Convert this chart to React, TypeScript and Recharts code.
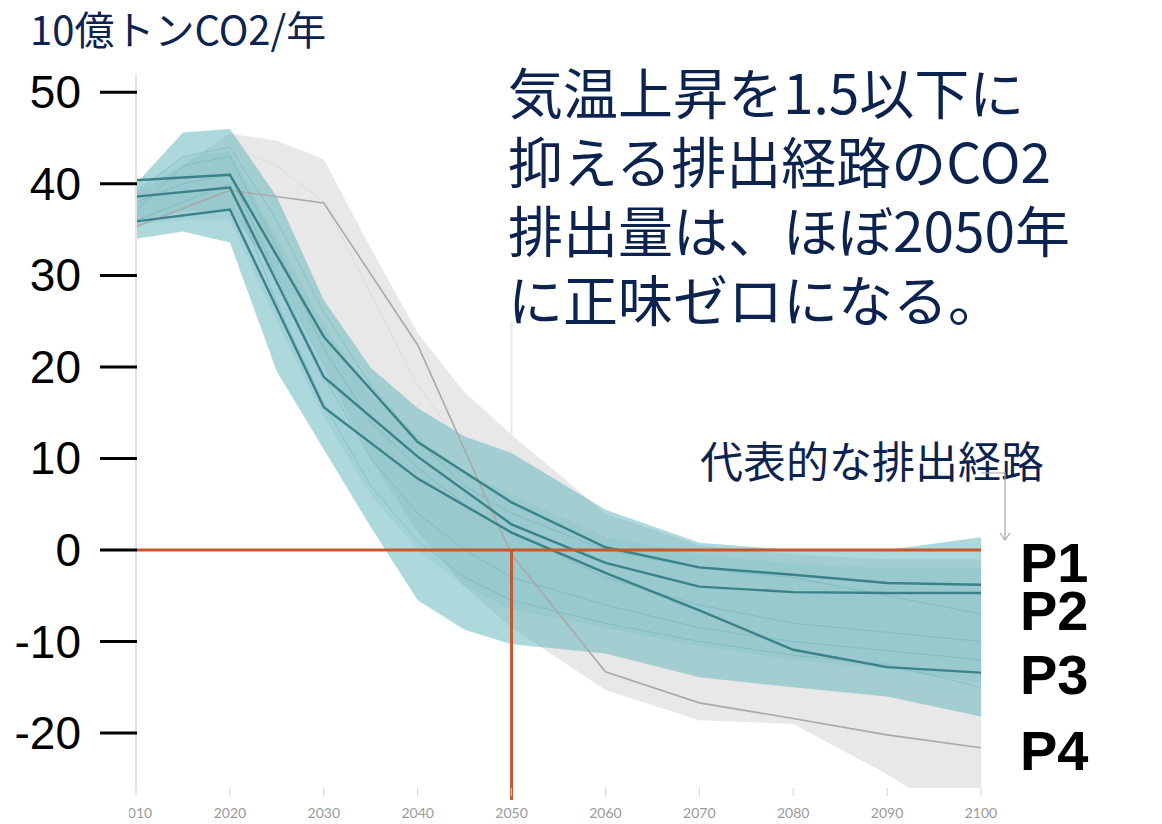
import React from "react";
import { ComposedChart, Area, Line, XAxis, YAxis, ReferenceLine } from "recharts";

const years = [2010, 2015, 2020, 2025, 2030, 2035, 2040, 2045, 2050, 2060, 2070, 2080, 2090, 2100];

// envelope of the 1.5°C pathways
const tealHigh = [40, 45.6, 46, 38.6, 27.3, 19.9, 15.5, 12.4, 10.6, 4.4, 0.8, 0, 0, 1.4];
const tealLow = [34, 34.8, 33.6, 19.5, 11, 2.5, -5.5, -8.7, -10.3, -11.3, -13.9, -15, -16, -18.2];
// where most of the pathways sit
const coreHigh = [39.5, 43, 43.5, 34, 24.5, 17, 12.5, 8.5, 6, 1.5, -0.5, -1.5, -2, -2];
const coreLow = [35.5, 36, 36, 25, 14.5, 6, 0, -4, -6.5, -8.5, -10.5, -12, -13, -14.5];
// other pathways
const grayHigh = [39, 42, 45.5, 44.7, 42.7, 33, 23.7, 17.2, 12.6, 4, 0.5, -0.5, -1, -1];
const grayLow = [36, 37, 37, 30, 20, 10, 2, -4, -8.5, -15.3, -18.6, -19, -24.5, -31];

// a few of the individual pathways behind the envelopes
const thinA = [37, 42, 43, 33, 22, 14, 9, 5, 2, -3, -6, -8, -9, -10];
const thinB = [38, 40, 41, 30, 19, 10, 4, 0, -3, -6, -8.5, -10, -11, -12];
const thinC = [36, 38, 40, 27, 16, 7, 1, -3, -5.5, -8, -10, -11.5, -12.5, -15];
const thinD = [39, 43, 44, 36, 26, 18, 12, 7, 4, 0, -2, -3, -5, -7];
const thinE = [38, 41, 44, 42, 38, 28, 18, 11, 6, -4, -9, -12, -15, -17];

// illustrative pathways
const p1 = [40.4, null, 41, null, 23.3, null, 11.8, null, 5.2, 0.3, -1.9, -2.7, -3.6, -3.8];
const p2 = [38.6, null, 39.6, null, 18.9, null, 10.2, null, 2.8, -1.4, -4, -4.6, -4.7, -4.7];
const p3 = [35.9, null, 37.2, null, 15.6, null, 7.8, null, 1.9, -2.5, -6.6, -10.9, -12.8, -13.4];
const p4 = [35.3, null, 39.3, null, 37.9, null, 22.4, null, -0.5, -13.3, -16.7, -18.4, -20.2, -21.6];

const xTicks = [2010, 2020, 2030, 2040, 2050, 2060, 2070, 2080, 2090, 2100];
const yTicks = [-20, -10, 0, 10, 20, 30, 40, 50];
const pathLabels = ["P1", "P2", "P3", "P4"];
const headline = ["気温上昇を1.5以下に", "抑える排出経路のCO2", "排出量は、ほぼ2050年", "に正味ゼロになる。"];

const data = years.map((year, i) => ({
  year,
  gray: [grayLow[i], grayHigh[i]],
  teal: [tealLow[i], tealHigh[i]],
  core: [coreLow[i], coreHigh[i]],
  thinA: thinA[i],
  thinB: thinB[i],
  thinC: thinC[i],
  thinD: thinD[i],
  thinE: thinE[i],
  p1: p1[i],
  p2: p2[i],
  p3: p3[i],
  p4: p4[i],
}));

const NAVY = "#0c2350";
const ORANGE = "#c8582a";
const TEAL_LINE = "#3a8288";
const JP = "'Noto Sans CJK JP', 'Noto Sans', sans-serif";

function YTick({ y, payload }: any) {
  return (
    <g>
      <text x={81} y={y} dy={16} textAnchor="end" fontSize={46} fill="#000" fontFamily="'Liberation Sans', Arial, sans-serif">
        {payload.value}
      </text>
      <line x1={100} x2={137} y1={y} y2={y} stroke="#000" strokeWidth={3} />
    </g>
  );
}

function XTick({ x, y, payload }: any) {
  const first = payload.value === 2010;
  return (
    <g>
      {first && (
        <defs>
          <clipPath id="firstTick">
            <rect x={129} y={y} width={60} height={40} />
          </clipPath>
        </defs>
      )}
      <text
        x={x}
        y={y + 20}
        textAnchor="middle"
        fontSize={14}
        fill="#9a9a9a"
        fontFamily="Lato, sans-serif"
        clipPath={first ? "url(#firstTick)" : undefined}
      >
        {payload.value}
      </text>
    </g>
  );
}

const thin = (key: string, color: string) => (
  <Line
    key={key}
    dataKey={key}
    type="linear"
    stroke={color}
    strokeOpacity={0.35}
    strokeWidth={1}
    dot={false}
    isAnimationActive={false}
  />
);

export default function App() {
  return (
    <div style={{ position: "absolute", left: 0, top: 0, width: 1162, height: 824, background: "#fff" }}>
      <ComposedChart width={1162} height={824} data={data} margin={{ top: 74, right: 181, bottom: 0, left: 0 }}>
        <XAxis
          type="number"
          dataKey="year"
          domain={[2010, 2100]}
          ticks={xTicks}
          axisLine={false}
          tickLine={{ stroke: "#d0d0d0" }}
          tickSize={8}
          height={36}
          tick={<XTick />}
        />
        <YAxis
          type="number"
          domain={[-26, 52]}
          allowDataOverflow
          ticks={yTicks}
          width={136}
          axisLine={{ stroke: "#e2e2e2", strokeWidth: 2 }}
          tickLine={false}
          tick={<YTick />}
        />
        <Area dataKey="gray" type="linear" stroke="none" fill="#d8d8d8" fillOpacity={0.6} isAnimationActive={false} />
        {thin("thinE", "#c4c4c4")}
        <Area dataKey="teal" type="linear" stroke="none" fill="#5cb3bb" fillOpacity={0.5} isAnimationActive={false} />
        <Area dataKey="core" type="linear" stroke="none" fill="#4fa7b0" fillOpacity={0.12} isAnimationActive={false} />
        {thin("thinA", "#5aa7ae")}
        {thin("thinB", "#5aa7ae")}
        {thin("thinC", "#5aa7ae")}
        {thin("thinD", "#5aa7ae")}
        <ReferenceLine segment={[{ x: 2050, y: 25 }, { x: 2050, y: 12 }]} stroke="#e8e8e8" strokeWidth={2} />
        <Line dataKey="p4" type="linear" stroke="#a9a9a9" strokeWidth={1.6} dot={false} connectNulls isAnimationActive={false} />
        <Line dataKey="p3" type="linear" stroke={TEAL_LINE} strokeWidth={2.4} dot={false} connectNulls isAnimationActive={false} />
        <Line dataKey="p2" type="linear" stroke={TEAL_LINE} strokeWidth={2.4} dot={false} connectNulls isAnimationActive={false} />
        <Line dataKey="p1" type="linear" stroke={TEAL_LINE} strokeWidth={2.4} dot={false} connectNulls isAnimationActive={false} />
        <ReferenceLine y={0} stroke={ORANGE} strokeWidth={3} />
        <ReferenceLine
          segment={[{ x: 2050, y: 0 }, { x: 2050, y: -27.3 }]}
          stroke={ORANGE}
          strokeWidth={3}
          ifOverflow="visible"
        />
      </ComposedChart>

      <div style={{ position: "absolute", left: 30, top: 8, fontFamily: JP, fontSize: 40, lineHeight: "40px", color: NAVY, whiteSpace: "nowrap" }}>
        10億トンCO2/年
      </div>
      {headline.map((line, i) => (
        <div
          key={line}
          style={{
            position: "absolute",
            left: 508,
            top: 62 + i * 69,
            height: 56,
            fontFamily: JP,
            fontSize: 55,
            lineHeight: "56px",
            color: NAVY,
            whiteSpace: "nowrap",
          }}
        >
          {line}
        </div>
      ))}
      <div style={{ position: "absolute", left: 700, top: 438, fontFamily: JP, fontSize: 43, lineHeight: "43px", color: NAVY, whiteSpace: "nowrap" }}>
        代表的な排出経路
      </div>
      {pathLabels.map((label, i) => (
        <div
          key={label}
          style={{
            position: "absolute",
            left: 1020,
            top: [541, 589, 653, 729][i],
            height: 44,
            fontFamily: "'Liberation Sans', Arial, sans-serif",
            fontWeight: "bold",
            fontSize: 56,
            lineHeight: "44px",
            color: "#000",
            whiteSpace: "nowrap",
          }}
        >
          {label}
        </div>
      ))}

      <svg width={1162} height={824} style={{ position: "absolute", left: 0, top: 0, pointerEvents: "none" }}>
        <polyline points="981,473 1005,473 1005,540" fill="none" stroke="#a8a8a8" strokeWidth={1.2} />
        <polyline points="1000,533 1005,540 1010,533" fill="none" stroke="#a8a8a8" strokeWidth={1.2} />
      </svg>
    </div>
  );
}
